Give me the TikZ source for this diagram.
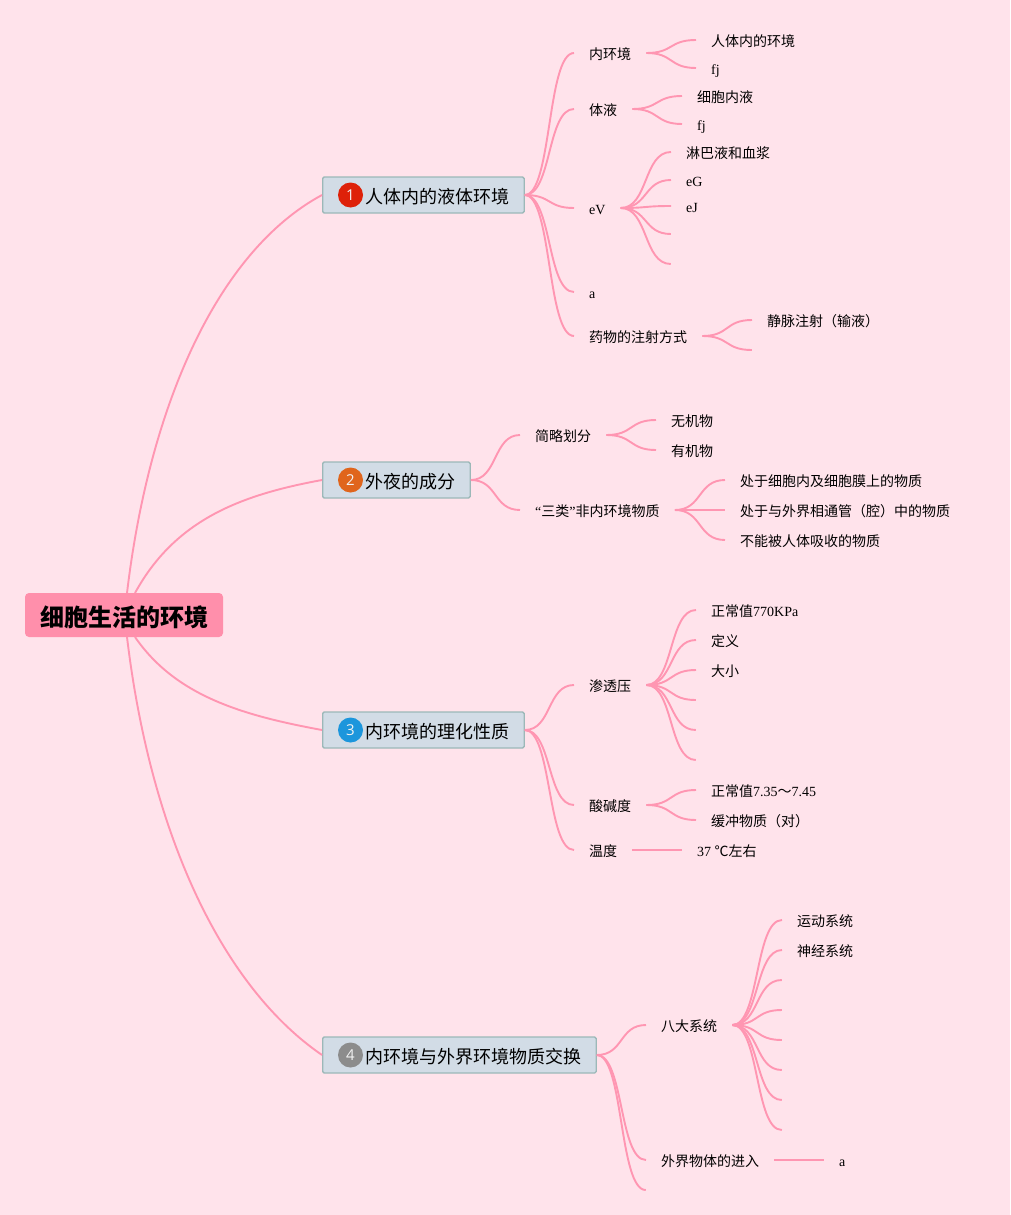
\documentclass[tikz,border=0pt]{standalone}
\usepackage{fontspec}
\setmainfont{Noto Sans CJK SC}
\newfontfamily\latinfont{Liberation Serif}
\newfontfamily\badgefont{Open Sans}
\newcommand{\lat}[1]{\raisebox{0.7pt}{\latinfont #1}}
\usetikzlibrary{calc}
\definecolor{pagepink}{HTML}{FFE3EB}
\definecolor{linepink}{HTML}{FF96B2}
\definecolor{rootpink}{HTML}{FF8FAB}
\definecolor{topicfill}{HTML}{D2DCE6}
\definecolor{topicedge}{HTML}{9CB8B8}
\definecolor{badgered}{HTML}{DE2109}
\definecolor{badgeorange}{HTML}{E0651C}
\definecolor{badgeblue}{HTML}{1C96DC}
\definecolor{badgegray}{HTML}{8C8C8C}
\tikzset{
  item/.style={anchor=west, inner xsep=15pt, inner ysep=0pt, text height=15.8pt, text depth=2pt,
    font=\fontsize{14}{16}\selectfont},
  blank/.style={inner sep=0pt, minimum size=0pt},
  topic/.style={anchor=west, draw=topicedge, line width=1.3pt, fill=topicfill, rounded corners=1.5pt,
    inner xsep=14.5pt, inner ysep=0pt, minimum height=36pt, text height=18pt, text depth=2pt,
    font=\fontsize{18}{20}\selectfont},
  badge/.style={circle, inner sep=0pt, minimum size=25pt, text=white!90!gray,
    font=\badgefont\fontsize{15}{16}\selectfont},
  branch/.style={to path={.. controls ($(\tikztostart)!0.55!(\tikztostart -| \tikztotarget)$)
    and ($(\tikztotarget)!0.55!(\tikztotarget -| \tikztostart)$) .. (\tikztotarget)}},
  limb/.style={draw=linepink, line width=1.9pt}
}
\begin{document}
\begin{tikzpicture}[x=1pt, y=-1pt]
  \useasboundingbox[fill=pagepink] (0,0) rectangle (1010,1215);
  % === root ===
  \node[fill=rootpink, rounded corners=4pt, minimum width=198pt, minimum height=44pt, inner sep=0pt,
    text height=25pt, text depth=3pt, font=\fontsize{24}{28}\bfseries\selectfont] (root) at (124,615) {细胞生活的环境};
  \coordinate (rootNa) at (127,593);
  \coordinate (rootNb) at (135,593);
  \coordinate (rootSb) at (135,637);
  \coordinate (rootSa) at (127,637);
  % === topics ===
  \node[topic] (topicA) at (322,195) {\hspace*{28.5pt}人体内的液体环境};
  \node[topic] (topicB) at (322,480) {\hspace*{28.5pt}外夜的成分};
  \node[topic] (topicC) at (322,730) {\hspace*{28.5pt}内环境的理化性质};
  \node[topic] (topicD) at (322,1055) {\hspace*{28.5pt}内环境与外界环境物质交换};
  \node[badge, fill=badgered] (badgeA) at (350.5,195) {1};
  \node[badge, fill=badgeorange] (badgeB) at (350.5,480) {2};
  \node[badge, fill=badgeblue] (badgeC) at (350.5,730) {3};
  \node[badge, fill=badgegray] (badgeD) at (350.5,1055) {4};
  % === topic A ===
  \node[item] (huanjing) at (574,53) {内环境};
  \node[item] (huanjingA) at (696,40) {人体内的环境};
  \node[item] (huanjingB) at (696,68) {\lat{fj}};
  \node[item] (tiye) at (574,109) {体液};
  \node[item] (tiyeA) at (682,96) {细胞内液};
  \node[item] (tiyeB) at (682,124) {\lat{fj}};
  \node[item] (ev) at (574,208) {\lat{eV}};
  \node[item] (evA) at (671,152) {淋巴液和血浆};
  \node[item] (evB) at (671,180) {\lat{eG}};
  \node[item] (evC) at (671,206) {\lat{eJ}};
  \node[blank] (evD) at (671,234) {};
  \node[blank] (evE) at (671,264) {};
  \node[item] (alpha) at (574,292) {\lat{a}};
  \node[item] (yaowu) at (574,336) {药物的注射方式};
  \node[item] (yaowuA) at (752,320) {静脉注射（输液）};
  \node[blank] (yaowuB) at (752,350) {};
  % === topic B ===
  \node[item] (jianlue) at (520,435) {简略划分};
  \node[item] (jianlueA) at (656,420) {无机物};
  \node[item] (jianlueB) at (656,450) {有机物};
  \node[item] (sanlei) at (520,510) {\lat{“}三类\lat{”}非内环境物质};
  \node[item] (sanleiA) at (725,480) {处于细胞内及细胞膜上的物质};
  \node[item] (sanleiB) at (725,510) {处于与外界相通管（腔）中的物质};
  \node[item] (sanleiC) at (725,540) {不能被人体吸收的物质};
  % === topic C ===
  \node[item] (shentou) at (574,685) {渗透压};
  \node[item] (shentouA) at (696,610) {正常值\lat{770KPa}};
  \node[item] (shentouB) at (696,640) {定义};
  \node[item] (shentouC) at (696,670) {大小};
  \node[blank] (shentouD) at (696,700) {};
  \node[blank] (shentouE) at (696,730) {};
  \node[blank] (shentouF) at (696,760) {};
  \node[item] (suanjian) at (574,805) {酸碱度};
  \node[item] (suanjianA) at (696,790) {正常值\lat{7.35}～\lat{7.45}};
  \node[item] (suanjianB) at (696,820) {缓冲物质（对）};
  \node[item] (wendu) at (574,850) {温度};
  \node[item] (wenduA) at (682,850) {\lat{37 }℃左右};
  % === topic D ===
  \node[item] (bada) at (646,1025) {八大系统};
  \node[item] (badaA) at (782,920) {运动系统};
  \node[item] (badaB) at (782,950) {神经系统};
  \node[blank] (badaC) at (782,980) {};
  \node[blank] (badaD) at (782,1010) {};
  \node[blank] (badaE) at (782,1040) {};
  \node[blank] (badaF) at (782,1070) {};
  \node[blank] (badaG) at (782,1100) {};
  \node[blank] (badaH) at (782,1130) {};
  \node[item] (waijie) at (646,1160) {外界物体的进入};
  \node[item] (waijieA) at (824,1160) {\lat{a}};
  \node[blank] (waijieB) at (646,1190) {};
  % === root connectors ===
  \draw[limb] (rootNa) .. controls (150,400) and (220,250) .. (topicA.west);
  \draw[limb] (rootNb) .. controls (175,520) and (240,495) .. (topicB.west);
  \draw[limb] (rootSb) .. controls (175,695) and (240,715) .. (topicC.west);
  \draw[limb] (rootSa) .. controls (150,830) and (220,985) .. (topicD.west);
  % === branch connectors ===
  \foreach \from/\to in {topicA/huanjing, topicA/tiye, topicA/ev, topicA/alpha, topicA/yaowu,
    huanjing/huanjingA, huanjing/huanjingB, tiye/tiyeA, tiye/tiyeB,
    ev/evA, ev/evB, ev/evC, ev/evD, ev/evE, yaowu/yaowuA, yaowu/yaowuB,
    topicB/jianlue, topicB/sanlei, jianlue/jianlueA, jianlue/jianlueB,
    sanlei/sanleiA, sanlei/sanleiB, sanlei/sanleiC,
    topicC/shentou, topicC/suanjian, topicC/wendu,
    shentou/shentouA, shentou/shentouB, shentou/shentouC, shentou/shentouD, shentou/shentouE, shentou/shentouF,
    suanjian/suanjianA, suanjian/suanjianB, wendu/wenduA,
    topicD/bada, topicD/waijie, topicD/waijieB,
    bada/badaA, bada/badaB, bada/badaC, bada/badaD, bada/badaE, bada/badaF, bada/badaG, bada/badaH,
    waijie/waijieA}
    \draw[limb] (\from.east) to[branch] (\to.west);
\end{tikzpicture}
\end{document}
